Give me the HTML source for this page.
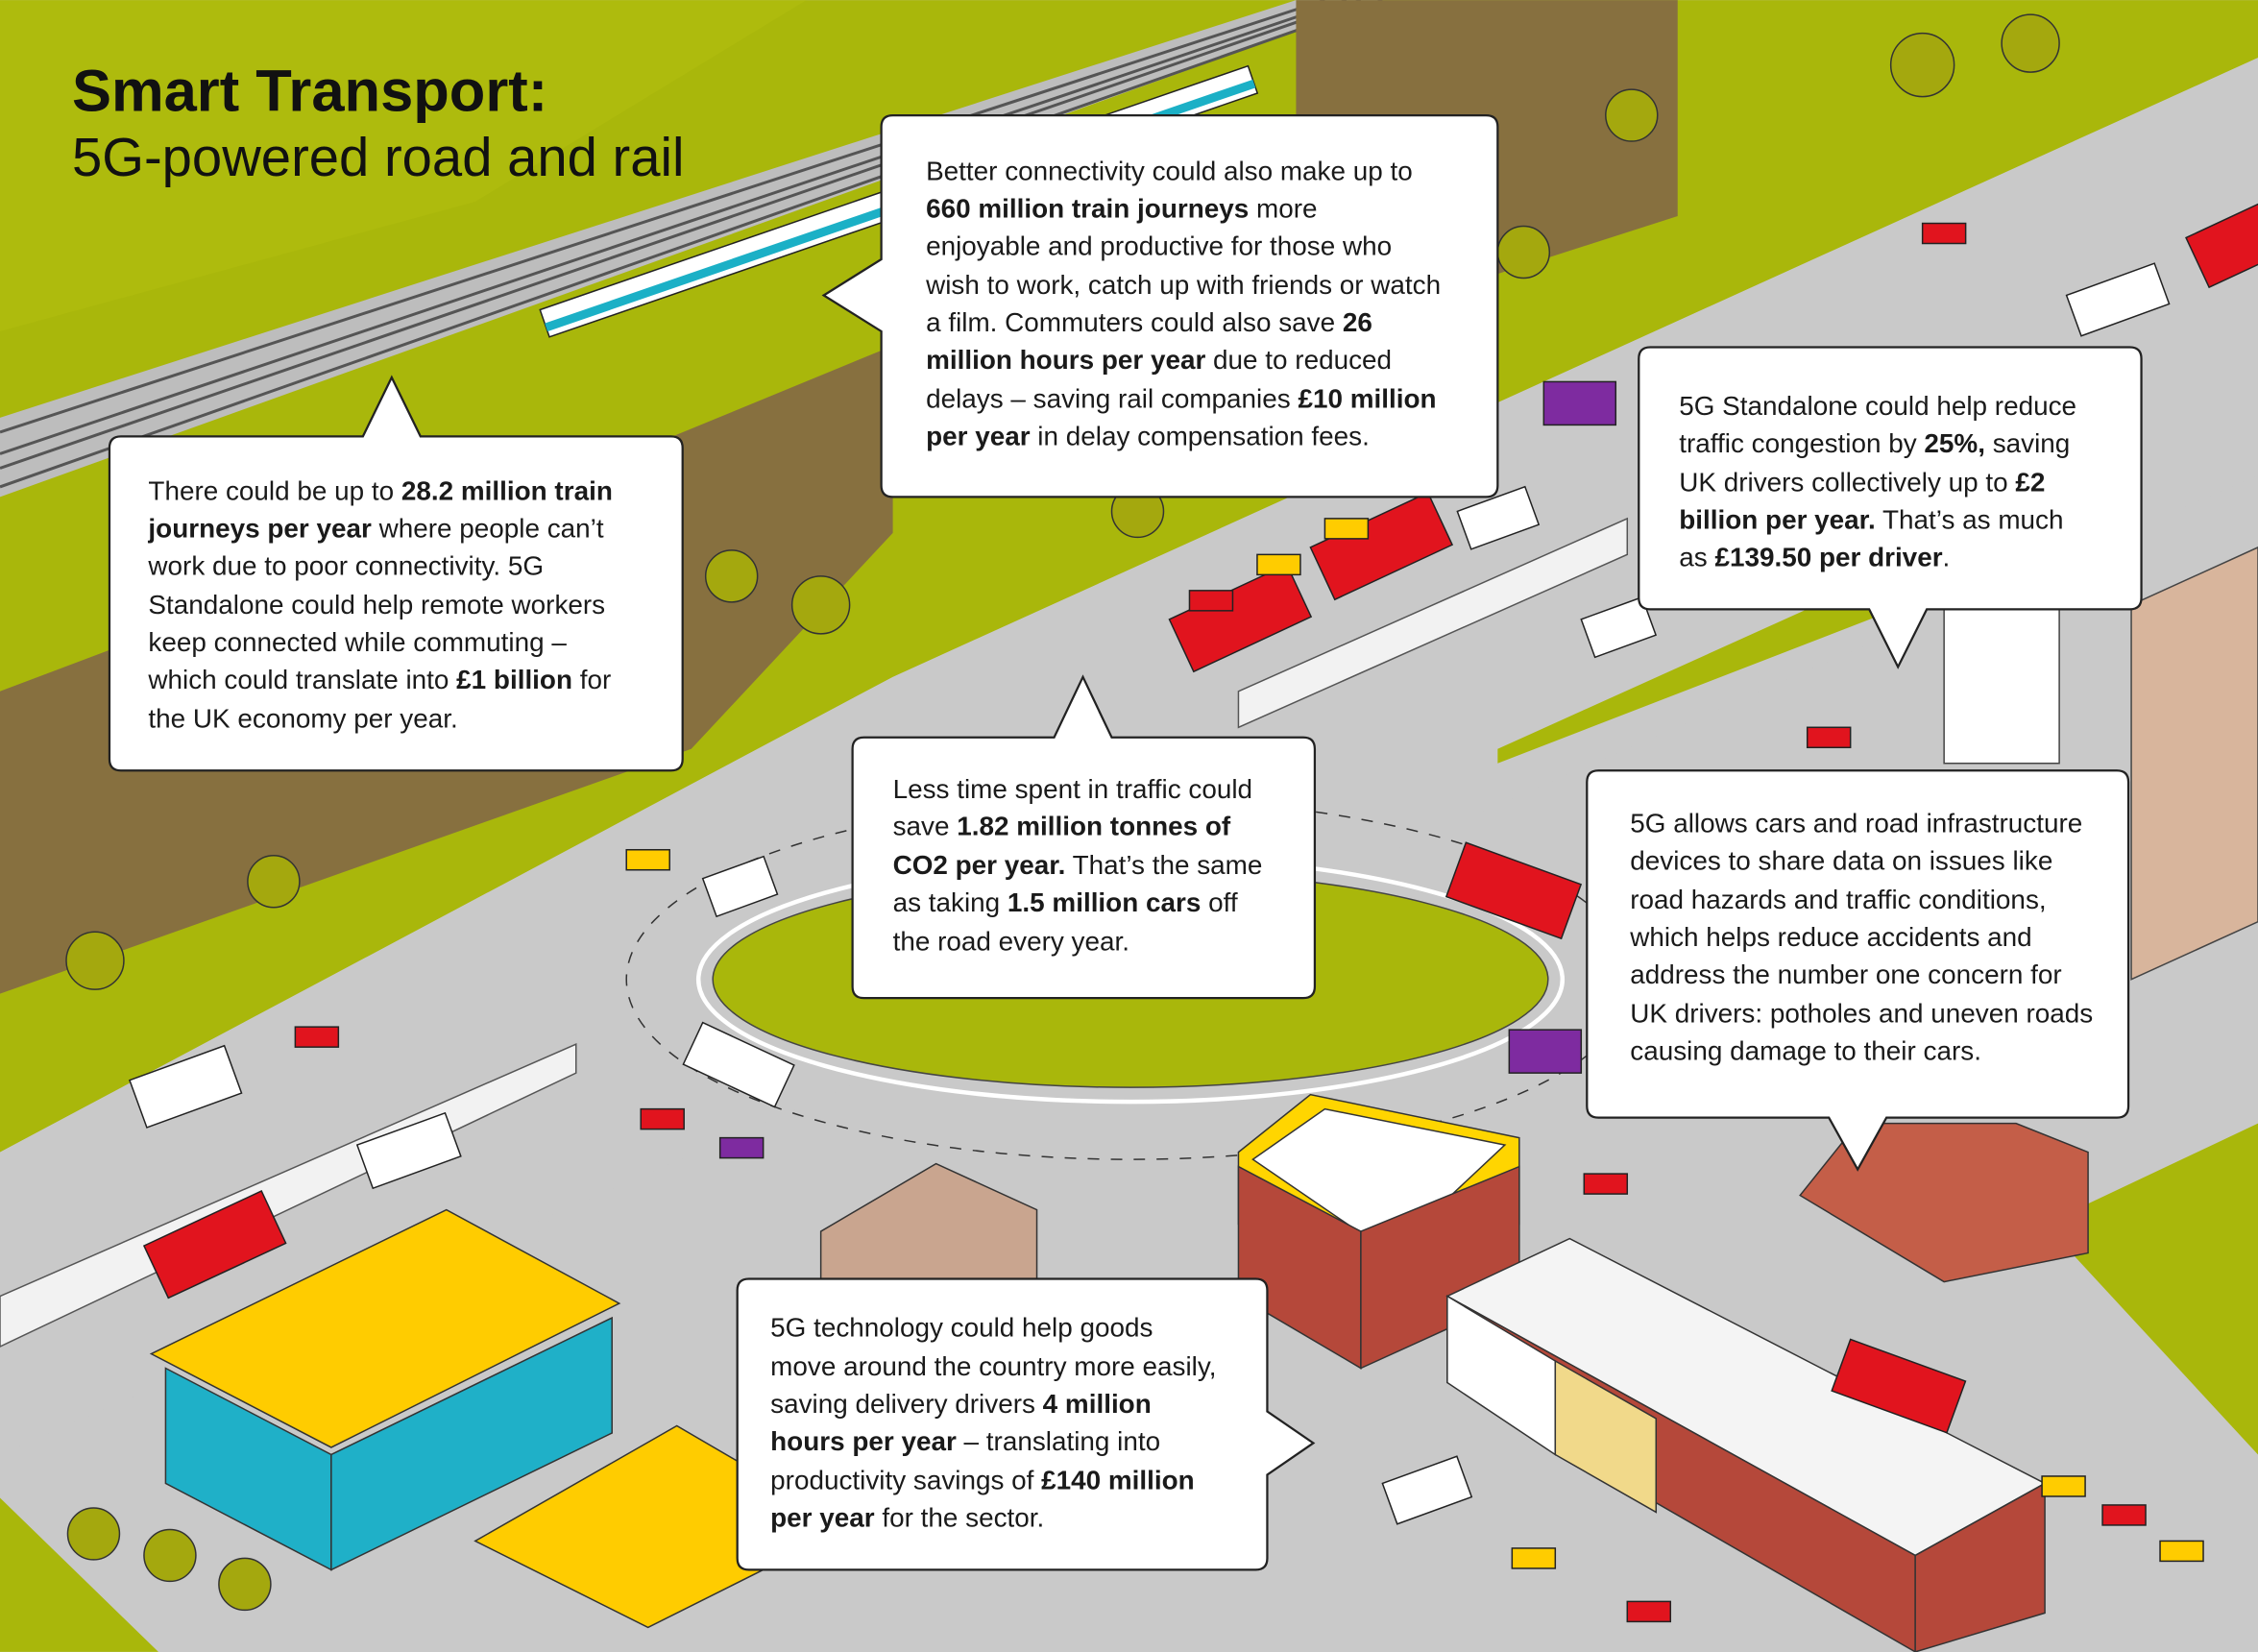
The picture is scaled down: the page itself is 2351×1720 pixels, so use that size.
<!DOCTYPE html>
<html><head><meta charset="utf-8">
<style>
html,body{margin:0;padding:0;background:#c8c8c8;}
svg{display:block;}
text{font-family:"Liberation Sans",sans-serif;}
.t{font-size:18.6px;fill:#1a1a1a;}
.b{font-weight:bold;}
.box{fill:#fff;stroke:#222;stroke-width:1.5;}
</style></head>
<body>
<svg width="2351" height="1720" viewBox="0 0 1568 1147" xmlns="http://www.w3.org/2000/svg">
<rect width="1568" height="1147" fill="#c9c9c9"/>
<!-- green base above main road -->
<polygon points="0,0 1568,0 1568,40 620,470 0,800" fill="#a9b70b"/>
<polygon points="0,0 560,0 330,140 0,230" fill="#b3c010" opacity="0.5"/>
<!-- rail bed -->
<polygon points="0,290 900,0 960,0 0,345" fill="#bdbdbd"/>
<g stroke="#555" stroke-width="2"><line x1="0" y1="300" x2="920" y2="0"/><line x1="0" y1="315" x2="935" y2="0"/><line x1="0" y1="325" x2="945" y2="0"/><line x1="0" y1="338" x2="960" y2="0"/></g>
<!-- train -->
<g transform="translate(375,215) rotate(-19)">
<rect x="0" y="0" width="520" height="20" fill="#fff" stroke="#222"/>
<rect x="0" y="10" width="520" height="6" fill="#1bb0c6"/>
</g>
<!-- brown cliffs -->
<polygon points="0,480 450,310 620,240 620,370 480,520 0,690" fill="#87703f"/>
<polygon points="900,0 1165,0 1165,150 900,235" fill="#87703f"/>
<!-- main road band -->
<polygon points="0,800 620,470 1568,40 1568,330 0,1010" fill="#c9c9c9"/>
<polygon points="0,900 400,725 400,745 0,935" fill="#f2f2f2" stroke="#555"/>
<polygon points="860,480 1130,360 1130,385 860,505" fill="#f2f2f2" stroke="#555"/>
<!-- right-side green strip & building -->
<polygon points="1040,520 1350,380 1350,410 1040,530" fill="#a9b70b"/>
<polygon points="1420,850 1568,780 1568,1010" fill="#a9b70b"/>
<polygon points="1480,420 1568,380 1568,640 1480,680" fill="#d8b59c" stroke="#444"/>
<polygon points="1350,420 1430,420 1430,530 1350,530" fill="#fff" stroke="#444"/>
<polygon points="0,1040 110,1147 0,1147" fill="#a9b70b"/>
<!-- roundabout -->
<ellipse cx="785" cy="680" rx="300" ry="85" fill="#c9c9c9" stroke="#fff" stroke-width="3"/>
<ellipse cx="785" cy="680" rx="290" ry="75" fill="#a9b70b" stroke="#444"/>
<ellipse cx="785" cy="680" rx="350" ry="125" fill="none" stroke="#333" stroke-dasharray="8,8"/>
<!-- yellow building -->
<polygon points="105,940 310,840 430,905 230,1005" fill="#ffcc00" stroke="#333"/>
<polygon points="115,950 230,1010 230,1090 115,1030" fill="#1fb0c8" stroke="#333"/>
<polygon points="230,1010 425,915 425,995 230,1090" fill="#1fb0c8" stroke="#333"/>
<polygon points="330,1070 470,990 590,1060 450,1130" fill="#ffcc00" stroke="#333"/>
<!-- brick building -->
<polygon points="860,800 910,760 1055,790 1055,850 960,880 860,850" fill="#ffd500" stroke="#333"/>
<polygon points="870,805 920,770 1045,795 965,870" fill="#fff" stroke="#333"/>
<polygon points="860,810 945,855 945,950 860,900" fill="#b5483a" stroke="#333"/>
<polygon points="945,855 1055,810 1055,900 945,950" fill="#b5483a" stroke="#333"/>
<polygon points="570,855 650,808 720,840 720,890 570,890" fill="#c9a58f" stroke="#333"/>
<!-- terraced row -->
<polygon points="1005,900 1090,860 1420,1030 1330,1080" fill="#f4f4f4" stroke="#333"/>
<polygon points="1005,900 1330,1080 1330,1147 1005,960" fill="#b5483a" stroke="#333"/>
<polygon points="1005,900 1080,945 1080,1010 1005,960" fill="#fff" stroke="#333"/>
<polygon points="1080,945 1150,985 1150,1050 1080,1010" fill="#f1d98a" stroke="#333"/>
<polygon points="1330,1080 1420,1030 1420,1120 1330,1147" fill="#b5483a" stroke="#333"/>
<polygon points="1290,780 1400,780 1450,800 1450,870 1350,890 1250,830" fill="#c45e48" stroke="#333"/>
<!-- buses -->
<g fill="#e1141e" stroke="#222">
<rect x="812" y="430" width="90" height="40" transform="rotate(-25 812 430)"/>
<rect x="910" y="380" width="90" height="40" transform="rotate(-25 910 380)"/>
<rect x="100" y="865" width="90" height="40" transform="rotate(-25 100 865)"/>
<rect x="1018" y="585" width="85" height="40" transform="rotate(20 1018 585)"/>
<rect x="1285" y="930" width="85" height="38" transform="rotate(20 1285 930)"/>
<rect x="1518" y="165" width="60" height="38" transform="rotate(-25 1518 165)"/>
</g>
<!-- trucks -->
<g fill="#fff" stroke="#222">
<rect x="90" y="750" width="70" height="35" transform="rotate(-20 90 750)"/>
<rect x="248" y="795" width="65" height="32" transform="rotate(-20 248 795)"/>
<rect x="488" y="710" width="70" height="32" transform="rotate(25 488 710)"/>
<rect x="488" y="610" width="45" height="28" transform="rotate(-20 488 610)"/>
<rect x="1012" y="355" width="50" height="28" transform="rotate(-20 1012 355)"/>
<rect x="1098" y="430" width="45" height="28" transform="rotate(-20 1098 430)"/>
<rect x="1435" y="205" width="65" height="30" transform="rotate(-20 1435 205)"/>
<rect x="960" y="1030" width="55" height="30" transform="rotate(-20 960 1030)"/>
</g>
<g fill="#e1141e" stroke="#222">
<rect x="205" y="713" width="30" height="14"/><rect x="445" y="770" width="30" height="14"/>
<rect x="826" y="410" width="30" height="14"/><rect x="1255" y="505" width="30" height="14"/>
<rect x="1335" y="155" width="30" height="14"/><rect x="1460" y="1045" width="30" height="14"/>
<rect x="1100" y="815" width="30" height="14"/><rect x="1130" y="1112" width="30" height="14"/>
</g>
<g fill="#ffcc00" stroke="#222">
<rect x="435" y="590" width="30" height="14"/><rect x="920" y="360" width="30" height="14"/>
<rect x="873" y="385" width="30" height="14"/><rect x="1050" y="1075" width="30" height="14"/>
<rect x="1418" y="1025" width="30" height="14"/><rect x="1500" y="1070" width="30" height="14"/>
</g>
<g fill="#7e2ba0" stroke="#222">
<rect x="1072" y="265" width="50" height="30"/><rect x="1048" y="715" width="50" height="30"/>
<rect x="500" y="790" width="30" height="14"/>
</g>
<!-- trees -->
<g fill="#a4a80e" stroke="#333">
<circle cx="1335" cy="45" r="22"/><circle cx="1410" cy="30" r="20"/><circle cx="1133" cy="80" r="18"/>
<circle cx="1058" cy="175" r="18"/><circle cx="508" cy="400" r="18"/><circle cx="570" cy="420" r="20"/>
<circle cx="190" cy="612" r="18"/><circle cx="66" cy="667" r="20"/><circle cx="790" cy="355" r="18"/>
<circle cx="65" cy="1065" r="18"/><circle cx="118" cy="1080" r="18"/><circle cx="170" cy="1100" r="18"/>
</g>
<!-- title -->
<text x="50" y="77" style="font-size:41px;font-weight:bold;fill:#111">Smart Transport:</text>
<text x="50" y="122" style="font-size:37.5px;fill:#111">5G-powered road and rail</text>

<!-- callout A -->
<path class="box" d="M84,303 L252,303 L272,262 L292,303 L466,303 Q474,303 474,311 L474,527 Q474,535 466,535 L84,535 Q76,535 76,527 L76,311 Q76,303 84,303Z"/>
<text class="t" x="103" y="347">There could be up to <tspan class="b">28.2 million train</tspan></text>
<text class="t" x="103" y="373"><tspan class="b">journeys per year</tspan> where people can’t</text>
<text class="t" x="103" y="399">work due to poor connectivity. 5G</text>
<text class="t" x="103" y="426">Standalone could help remote workers</text>
<text class="t" x="103" y="452">keep connected while commuting –</text>
<text class="t" x="103" y="478">which could translate into <tspan class="b">£1 billion</tspan> for</text>
<text class="t" x="103" y="505">the UK economy per year.</text>

<!-- callout B -->
<path class="box" d="M620,80 L1032,80 Q1040,80 1040,88 L1040,337 Q1040,345 1032,345 L620,345 Q612,345 612,337 L612,230 L572,205 L612,180 L612,88 Q612,80 620,80Z"/>
<text class="t" x="643" y="125">Better connectivity could also make up to</text>
<text class="t" x="643" y="151"><tspan class="b">660 million train journeys</tspan> more</text>
<text class="t" x="643" y="177">enjoyable and productive for those who</text>
<text class="t" x="643" y="204">wish to work, catch up with friends or watch</text>
<text class="t" x="643" y="230">a film. Commuters could also save  <tspan class="b">26</tspan></text>
<text class="t" x="643" y="256"><tspan class="b">million hours per year</tspan> due to reduced</text>
<text class="t" x="643" y="283">delays – saving rail companies <tspan class="b">£10 million</tspan></text>
<text class="t" x="643" y="309"><tspan class="b">per year</tspan> in delay compensation fees.</text>

<!-- callout C -->
<path class="box" d="M1146,241 L1479,241 Q1487,241 1487,249 L1487,415 Q1487,423 1479,423 L1338,423 L1318,463 L1298,423 L1146,423 Q1138,423 1138,415 L1138,249 Q1138,241 1146,241Z"/>
<text class="t" x="1166" y="288">5G Standalone could help reduce</text>
<text class="t" x="1166" y="314">traffic congestion by <tspan class="b">25%,</tspan> saving</text>
<text class="t" x="1166" y="341">UK drivers collectively up to <tspan class="b">£2</tspan></text>
<text class="t" x="1166" y="367"><tspan class="b">billion per year.</tspan> That’s as much</text>
<text class="t" x="1166" y="393">as <tspan class="b">£139.50 per driver</tspan>.</text>

<!-- callout D -->
<path class="box" d="M600,512 L732,512 L752,470 L772,512 L905,512 Q913,512 913,520 L913,685 Q913,693 905,693 L600,693 Q592,693 592,685 L592,520 Q592,512 600,512Z"/>
<text class="t" x="620" y="554">Less time spent in traffic could</text>
<text class="t" x="620" y="580">save <tspan class="b">1.82 million tonnes of</tspan></text>
<text class="t" x="620" y="607"><tspan class="b">CO2 per year.</tspan> That’s the same</text>
<text class="t" x="620" y="633">as taking <tspan class="b">1.5 million cars</tspan> off</text>
<text class="t" x="620" y="660">the road every year.</text>

<!-- callout E -->
<path class="box" d="M1110,535 L1470,535 Q1478,535 1478,543 L1478,768 Q1478,776 1470,776 L1310,776 L1290,812 L1270,776 L1110,776 Q1102,776 1102,768 L1102,543 Q1102,535 1110,535Z"/>
<text class="t" x="1132" y="578">5G allows cars and road infrastructure</text>
<text class="t" x="1132" y="604">devices to share data on issues like</text>
<text class="t" x="1132" y="631">road hazards and traffic conditions,</text>
<text class="t" x="1132" y="657">which helps reduce accidents and</text>
<text class="t" x="1132" y="683">address the number one concern for</text>
<text class="t" x="1132" y="710">UK drivers: potholes and uneven roads</text>
<text class="t" x="1132" y="736">causing damage to their cars.</text>

<!-- callout F -->
<path class="box" d="M520,888 L872,888 Q880,888 880,896 L880,980 L912,1002 L880,1024 L880,1082 Q880,1090 872,1090 L520,1090 Q512,1090 512,1082 L512,896 Q512,888 520,888Z"/>
<text class="t" x="535" y="928">5G technology could help goods</text>
<text class="t" x="535" y="955">move around the country more easily,</text>
<text class="t" x="535" y="981">saving delivery drivers <tspan class="b">4 million</tspan></text>
<text class="t" x="535" y="1007"><tspan class="b">hours per year</tspan> – translating into</text>
<text class="t" x="535" y="1034">productivity savings of <tspan class="b">£140 million</tspan></text>
<text class="t" x="535" y="1060"><tspan class="b">per year</tspan> for the sector.</text>
</svg>
</body></html>
